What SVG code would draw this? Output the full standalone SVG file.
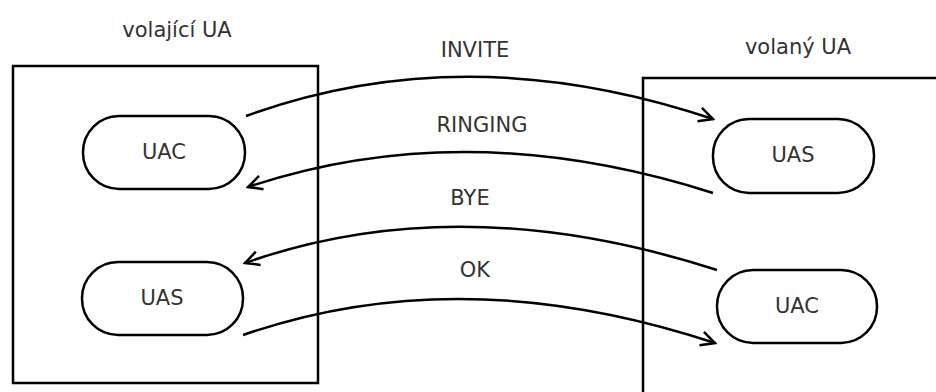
<svg xmlns="http://www.w3.org/2000/svg" width="936" height="392" viewBox="0 0 936 392">
  <style>
    .box { fill: none; stroke: #000; stroke-width: 2.5; }
    .node { fill: #fff; stroke: #000; stroke-width: 2.5; }
    .lbl { font-family: "DejaVu Sans", sans-serif; font-size: 21px; fill: #333; text-anchor: middle; }
    .conn { fill: none; stroke: #000; stroke-width: 2.5; }
  </style>
  <defs>
    <marker id="arr" markerUnits="userSpaceOnUse" viewBox="-16 -9 18 18" refX="0" refY="0" markerWidth="18" markerHeight="18" orient="auto">
      <path d="M -14 -7 L 0 0 L -14 7" fill="none" stroke="#000" stroke-width="2.5"/>
    </marker>
  </defs>
  <g id="caller">
    <rect class="box" x="13" y="66" width="305" height="317"/>
    <text class="lbl" x="177" y="37">volající UA</text>
  </g>
  <g id="callee">
    <path class="box" d="M 643 400 L 643 78 L 940 78"/>
    <text class="lbl" x="798" y="54">volaný UA</text>
  </g>
  <g id="caller-uac">
    <rect class="node" x="83" y="116" width="162" height="73" rx="36" ry="36"/>
    <text class="lbl" x="164" y="159">UAC</text>
  </g>
  <g id="caller-uas">
    <rect class="node" x="82" y="262" width="161" height="73" rx="36" ry="36"/>
    <text class="lbl" x="162" y="305">UAS</text>
  </g>
  <g id="callee-uas">
    <rect class="node" x="713" y="119" width="161" height="74" rx="36" ry="36"/>
    <text class="lbl" x="793" y="162">UAS</text>
  </g>
  <g id="callee-uac">
    <rect class="node" x="717" y="270" width="160" height="73" rx="36" ry="36"/>
    <text class="lbl" x="797" y="313">UAC</text>
  </g>
  <g id="connectors">
    <path class="conn" d="M 246 116 Q 466 36 713 119" marker-end="url(#arr)"/>
    <path class="conn" d="M 713 193 Q 466 114 248 187" marker-end="url(#arr)"/>
    <path class="conn" d="M 717 270 Q 459 187 245 263" marker-end="url(#arr)"/>
    <path class="conn" d="M 243 335 Q 461 259 715 343" marker-end="url(#arr)"/>
    <text class="lbl" x="475" y="57">INVITE</text>
    <text class="lbl" x="482" y="132">RINGING</text>
    <text class="lbl" x="470" y="205">BYE</text>
    <text class="lbl" x="475" y="277">OK</text>
  </g>
</svg>
